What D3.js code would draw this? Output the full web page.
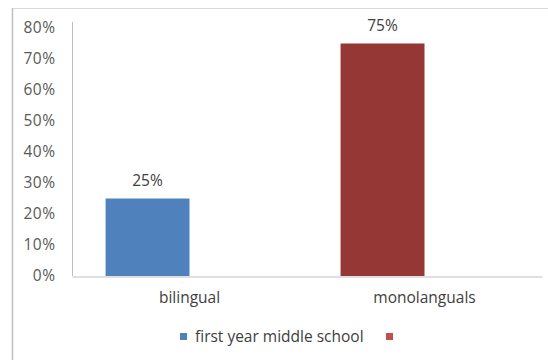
<!DOCTYPE html>
<html><head><meta charset="utf-8">
<script src="https://cdn.jsdelivr.net/npm/d3@7"></script>
<style>body{margin:0;background:#fff}svg{display:block}text{font-family:"Open Sans",sans-serif}</style>
</head><body><svg id="c" width="548" height="360"></svg>
<script>
const categories = ["bilingual", "monolanguals"];
const seriesNames = ["first year middle school", ""];
const values = [0.25, 0.75];
const barColors = ["#4F81BD", "#953735"];
const legendColors = ["#4F81BD", "#C0504D"];
const yTicks = [0, 0.1, 0.2, 0.3, 0.4, 0.5, 0.6, 0.7, 0.8];

const svg = d3.select("#c");
svg.append("rect").attr("width",548).attr("height",360).attr("fill","#fff");
// frame
svg.append("line").attr("x1",12).attr("x2",548).attr("y1",8.5).attr("y2",8.5).attr("stroke","#d9d9d9");
svg.append("line").attr("x1",12.5).attr("x2",12.5).attr("y1",8).attr("y2",360).attr("stroke","#bfbfbf").attr("stroke-width",1.5);

const m = {l:72, r:542, t:28, b:276};
const x = d3.scaleBand().domain(categories).range([m.l, m.r]);
const xs = d3.scaleBand().domain(seriesNames.map((d,i)=>i)).range([0, x.bandwidth()]).paddingInner(0).paddingOuter(0.4);
const y = d3.scaleLinear().domain([0, 0.8]).range([m.b, m.t]);

// y axis
const ya = svg.append("g").attr("transform",`translate(${m.l+0.5},0)`)
  .call(d3.axisLeft(y).tickValues(yTicks).tickFormat(d3.format(".0%")).tickSize(0).tickPadding(17));
ya.select(".domain").attr("stroke","#bfbfbf").attr("d",`M0,${m.b}V${y(0.8)-6}`);
ya.selectAll("text").attr("font-size",15.5).attr("fill","#595959").attr("letter-spacing",0.5);

// bars (series 0, colored per point)
svg.selectAll("rect.bar").data(categories).join("rect").attr("class","bar")
  .attr("x", d=>x(d)+xs(0))
  .attr("width", xs.bandwidth())
  .attr("y", (d,i)=>y(values[i]))
  .attr("height", (d,i)=>y(0)-y(values[i]))
  .attr("fill", (d,i)=>barColors[i]);

svg.selectAll("text.lab").data(categories).join("text").attr("class","lab")
  .attr("x", d=>x(d)+xs(0)+xs.bandwidth()/2)
  .attr("y", (d,i)=>y(values[i])-13)
  .attr("text-anchor","middle").attr("font-size",15.5).attr("fill","#404040")
  .text((d,i)=>d3.format(".0%")(values[i]));

// x axis
const xa = svg.append("g").attr("transform",`translate(0,${m.b+0.5})`)
  .call(d3.axisBottom(x).tickSize(0).tickPadding(15));
xa.select(".domain").attr("stroke","#bfbfbf");
xa.selectAll("text").attr("font-size",15.5).attr("fill","#404040");

// legend
const lg = svg.append("g");
lg.append("rect").attr("x",180).attr("y",333).attr("width",7).attr("height",7).attr("fill",legendColors[0]);
lg.append("text").attr("x",195).attr("y",337).attr("dy","0.35em").attr("font-size",15.5).attr("fill","#404040").text(seriesNames[0]);
lg.append("rect").attr("x",386).attr("y",333).attr("width",7).attr("height",7).attr("fill",legendColors[1]);
</script></body></html>
